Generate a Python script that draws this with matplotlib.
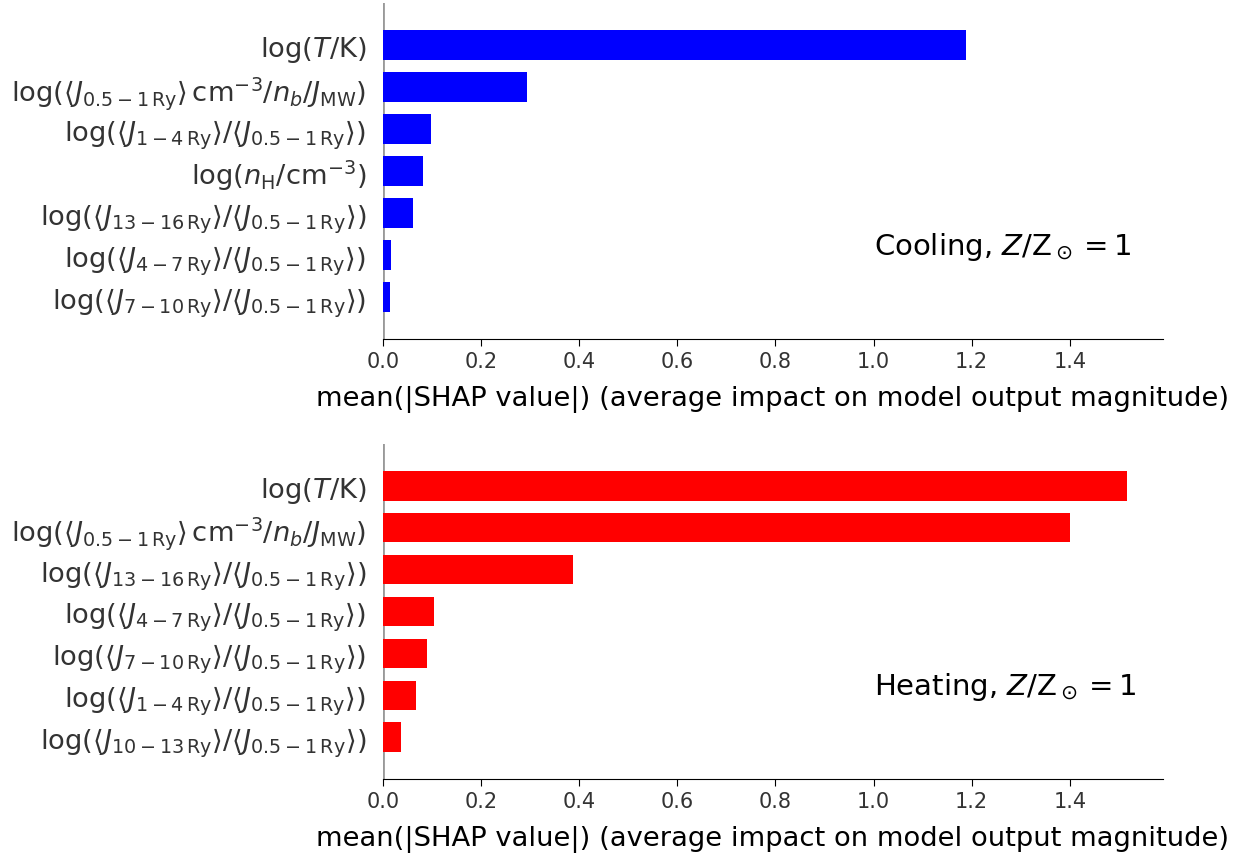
import numpy as np
import matplotlib
matplotlib.use("Agg")
import matplotlib.pyplot as plt

# feature labels, listed top to bottom
cooling_features = [
    r'$\log(T/{\rm K})$',
    r'$\log(\langle J_{0.5-1\,{\rm Ry}}\rangle\,{\rm cm}^{-3}/n_b/J_{\rm MW})$',
    r'$\log(\langle J_{1-4\,{\rm Ry}}\rangle/\langle J_{0.5-1\,{\rm Ry}}\rangle)$',
    r'$\log(n_{\rm H}/{\rm cm}^{-3})$',
    r'$\log(\langle J_{13-16\,{\rm Ry}}\rangle/\langle J_{0.5-1\,{\rm Ry}}\rangle)$',
    r'$\log(\langle J_{4-7\,{\rm Ry}}\rangle/\langle J_{0.5-1\,{\rm Ry}}\rangle)$',
    r'$\log(\langle J_{7-10\,{\rm Ry}}\rangle/\langle J_{0.5-1\,{\rm Ry}}\rangle)$',
]
cooling_shap = [1.188, 0.294, 0.098, 0.082, 0.061, 0.016, 0.014]

heating_features = [
    r'$\log(T/{\rm K})$',
    r'$\log(\langle J_{0.5-1\,{\rm Ry}}\rangle\,{\rm cm}^{-3}/n_b/J_{\rm MW})$',
    r'$\log(\langle J_{13-16\,{\rm Ry}}\rangle/\langle J_{0.5-1\,{\rm Ry}}\rangle)$',
    r'$\log(\langle J_{4-7\,{\rm Ry}}\rangle/\langle J_{0.5-1\,{\rm Ry}}\rangle)$',
    r'$\log(\langle J_{7-10\,{\rm Ry}}\rangle/\langle J_{0.5-1\,{\rm Ry}}\rangle)$',
    r'$\log(\langle J_{1-4\,{\rm Ry}}\rangle/\langle J_{0.5-1\,{\rm Ry}}\rangle)$',
    r'$\log(\langle J_{10-13\,{\rm Ry}}\rangle/\langle J_{0.5-1\,{\rm Ry}}\rangle)$',
]
heating_shap = [1.516, 1.400, 0.388, 0.104, 0.090, 0.067, 0.037]

panels = [
    (cooling_features, cooling_shap, 'blue', r'Cooling, $Z/{\rm Z}_\odot = 1$'),
    (heating_features, heating_shap, 'red', r'Heating, $Z/{\rm Z}_\odot = 1$'),
]

W, H = 1241, 854
fig = plt.figure(figsize=(W / 100, H / 100), dpi=100)

# axes boxes in pixels: left, top, right, bottom
boxes = [(383, 4, 1163, 340), (383, 445, 1163, 780)]

for (feats, vals, color, note), (l, t, r, b) in zip(panels, boxes):
    ax = fig.add_axes([l / W, 1 - b / H, (r - l) / W, (b - t) / H])
    n = len(feats)
    ypos = np.arange(n)[::-1]
    ax.axvline(0, color='#999999', lw=2, zorder=1)
    ax.barh(ypos, vals, height=0.7, color=color, zorder=2)
    ax.set_yticks(ypos)
    ax.set_yticklabels(feats, fontsize=19.7, color='#333333')
    ax.set_ylim(-1, n)
    ax.set_xlim(0, 1.59)
    ax.set_xticks(np.arange(0, 1.41, 0.2))
    ax.tick_params(axis='x', labelsize=15, labelcolor='#333333', length=5)
    ax.tick_params(axis='y', length=0, pad=12)
    for s in ['top', 'right', 'left']:
        ax.spines[s].set_visible(False)
    ax.set_xlabel('mean(|SHAP value|) (average impact on model output magnitude)',
                  fontsize=19.7, labelpad=10)
    ax.text(1.0, 1.22, note, fontsize=21, va='center', ha='left')

fig.savefig('out.png', dpi=100)
